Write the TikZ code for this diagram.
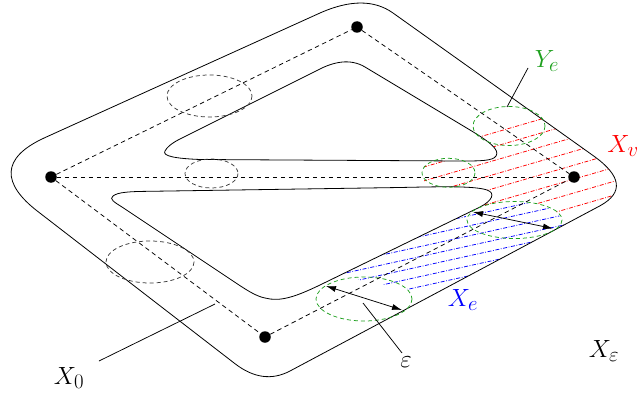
\documentclass[tikz,border=0pt]{standalone}
\usetikzlibrary{arrows.meta}
\definecolor{ygreen}{RGB}{30,160,30}
\definecolor{egrey}{RGB}{60,60,60}
\begin{document}
\begin{tikzpicture}[x=1pt,y=-1pt,
  every node/.style={font=\fontsize{24.88}{30}\selectfont, inner sep=0pt},
  contour/.style={line width=0.8pt, black},
  holeshape/.style={contour, fill=white},
  gedge/.style={line width=0.75pt, dash pattern=on 4.5pt off 3.5pt},
  vdot/.style={circle, fill=black, minimum size=11.5pt, inner sep=0pt},
  greyell/.style={egrey, line width=0.75pt, dash pattern=on 4pt off 3pt},
  greenell/.style={ygreen, line width=0.75pt, dash pattern=on 4pt off 3pt},
  redhatch/.style={red, line width=0.75pt, dash pattern=on 4pt off 1.6pt on 0.8pt off 1.6pt},
  bluehatch/.style={blue, line width=0.75pt, dash pattern=on 4pt off 1.6pt on 0.8pt off 1.6pt},
  dbl/.style={line width=0.75pt, {Latex[length=10pt,width=6pt]}-{Latex[length=10pt,width=6pt]}},
  leader/.style={line width=0.75pt}]
\useasboundingbox (0,0) rectangle (637,396);

% red hatching (X_v)
\begin{scope}
\clip (45,137.6) -- (320,13) .. controls (350,-0.3) and (374.3,-0.3) .. (393,13) -- (593,155.5) .. controls (621.7,175.8) and (624,192.6) .. (600,205.8) -- (290,371) .. controls (272,380.5) and (253.7,378.1) .. (235,363.7) -- (38,211.6) .. controls (2,184) and (0,158) .. (45,137.6) -- cycle;
\clip (424,145) -- (620,88) -- (660,88) -- (660,270) -- (562,222) -- (562,220) -- (555.6,210.75) -- (538.25,204) -- (514.5,201.5) -- (490.75,204) -- (473.4,210.75) -- (467,220) -- (424,220) -- cycle;
\foreach \c in {276,289.9,303.8,317.7,331.6,345.5,359.4,373.3}
  \draw[redhatch] (400,{\c-0.29*400}) -- (660,{\c-0.29*660});
\end{scope}

% blue hatching (X_e)
\begin{scope}
\clip (45,137.6) -- (320,13) .. controls (350,-0.3) and (374.3,-0.3) .. (393,13) -- (593,155.5) .. controls (621.7,175.8) and (624,192.6) .. (600,205.8) -- (290,371) .. controls (272,380.5) and (253.7,378.1) .. (235,363.7) -- (38,211.6) .. controls (2,184) and (0,158) .. (45,137.6) -- cycle;
\clip (330,262) -- (462,205) -- (467,220) -- (473.4,210.75) -- (490.75,204) -- (514.5,201.5) -- (538.25,204) -- (555.6,210.75) -- (562,220) -- (575,240) -- (420,320) -- (412,290) -- (338,276) -- cycle;
\foreach \c in {319,329,339,349,359,369,379}
  \draw[bluehatch] (300,{\c-0.22*300}) -- (600,{\c-0.22*600});
\end{scope}

% holes
\draw[holeshape] (165,151) .. controls (167,147) and (172,143) .. (180,139) -- (318,70) .. controls (333,62) and (350,58) .. (365,67) -- (470,130) .. controls (490,142) and (500,150) .. (496,156) .. controls (493,161) and (480,161) .. (460,161) -- (200,159.5) .. controls (175,158.5) and (162,156) .. (165,151) -- cycle;
\draw[holeshape] (150,191.3) -- (400,187.5) .. controls (445,186.5) and (475,186) .. (487,190) .. controls (496,193) and (492,201) .. (480,207) -- (320,285) .. controls (295,297) and (280,302) .. (265,298) .. controls (255,296) and (245,289) .. (230,279) -- (122,207) .. controls (114,202) and (109,199) .. (113,196) .. controls (118,192) and (130,191.5) .. (150,191.3) -- cycle;

% outer contour
\draw[contour] (45,137.6) -- (320,13) .. controls (350,-0.3) and (374.3,-0.3) .. (393,13) -- (593,155.5) .. controls (621.7,175.8) and (624,192.6) .. (600,205.8) -- (290,371) .. controls (272,380.5) and (253.7,378.1) .. (235,363.7) -- (38,211.6) .. controls (2,184) and (0,158) .. (45,137.6) -- cycle;

% grey ellipses
\draw[greyell] (209.5,96) ellipse [x radius=42.5, y radius=21];
\draw[greyell] (211.5,173.5) ellipse [x radius=26.5, y radius=14.5];
\draw[greyell] (150,262) ellipse [x radius=44, y radius=21];

% green ellipses
\draw[greenell] (509,126) ellipse [x radius=36, y radius=19.5];
\draw[greenell] (448.5,172.8) ellipse [x radius=26.5, y radius=14.5];
\draw[greenell] (514.5,220) ellipse [x radius=47.5, y radius=18.5];
\draw[greenell] (364,299) ellipse [x radius=48, y radius=22];

% graph
\node[vdot] (T) at (357,27) {};
\node[vdot] (L) at (51,177) {};
\node[vdot] (R) at (574,177) {};
\node[vdot] (B) at (265,337) {};
\draw[gedge] (L) -- (T);
\draw[gedge] (T) -- (R);
\draw[gedge] (L) -- (R);
\draw[gedge] (L) -- (B);
\draw[gedge] (B) -- (R);

% epsilon arrows
\coordinate (a1) at (473,212);
\coordinate (a2) at (553,228.5);
\coordinate (b1) at (326,286);
\coordinate (b2) at (402,310);
\draw[dbl] (a1) -- (a2);
\draw[dbl] (b1) -- (b2);

% labels and leaders
\node[ygreen] (Ye) at (547,61) {$Y_e$};
\node[red] (Xv) at (623,146) {$X_v$};
\node[blue] (Xe) at (463,300) {$X_e$};
\node (Xeps) at (604,351) {$X_\varepsilon$};
\node (eps) at (406,362) {$\varepsilon$};
\node (X0) at (69,378) {$X_0$};
\coordinate (ye1) at (528,68);
\coordinate (ye2) at (507,107);
\coordinate (ep1) at (363,303);
\coordinate (ep2) at (402,353);
\coordinate (x01) at (99,361);
\coordinate (x02) at (215,304);
\draw[leader] (ye1) -- (ye2);
\draw[leader] (ep1) -- (ep2);
\draw[leader] (x01) -- (x02);
\end{tikzpicture}
\end{document}
